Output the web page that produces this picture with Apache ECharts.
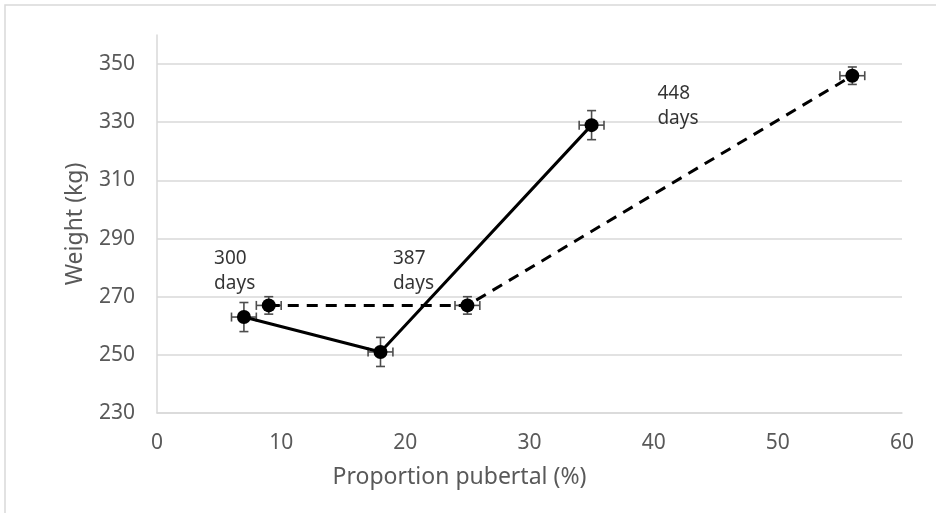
<!DOCTYPE html>
<html>
<head>
<meta charset="utf-8">
<script src="https://cdn.jsdelivr.net/npm/echarts@6/dist/echarts.min.js"></script>
<style>
  html, body { margin: 0; padding: 0; background: #fff; }
  #chart { width: 936px; height: 513px; }
</style>
</head>
<body>
<div id="chart"></div>
<script>
// solid line: x = proportion pubertal (%), y = weight (kg)
var solidX = [7, 18, 35];
var solidY = [263, 251, 329];
var solidXErr = [1, 1, 1];
var solidYErr = [5, 5, 5];

// dashed line
var dashedX = [9, 25, 56];
var dashedY = [267, 267, 346];
var dashedXErr = [1, 1, 1];
var dashedYErr = [3, 3, 3];

// age notes, anchored at top-left corner of the text
var noteText = ['300\ndays', '387\ndays', '448\ndays'];
var noteX = [4.6, 19.0, 40.3];
var noteY = [287.5, 287.5, 344];

var font = 'Noto Sans';

function pairs(xs, ys) {
    return xs.map(function (x, i) { return [x, ys[i]]; });
}
function errRows(xs, ys, ex, ey) {
    return xs.map(function (x, i) { return [x, ys[i], ex[i], ey[i]]; });
}

function renderErr(params, api) {
    var x = api.value(0), y = api.value(1), ex = api.value(2), ey = api.value(3);
    var l = api.coord([x - ex, y]);
    var r = api.coord([x + ex, y]);
    var t = api.coord([x, y + ey]);
    var b = api.coord([x, y - ey]);
    var cap = 4.5;
    var st = { stroke: '#4d4d4d', lineWidth: 1.6 };
    function seg(x1, y1, x2, y2) {
        return { type: 'line', shape: { x1: x1, y1: y1, x2: x2, y2: y2 }, style: st };
    }
    return {
        type: 'group',
        children: [
            seg(l[0], l[1], r[0], r[1]),
            seg(l[0], l[1] - cap, l[0], l[1] + cap),
            seg(r[0], r[1] - cap, r[0], r[1] + cap),
            seg(t[0], t[1], b[0], b[1]),
            seg(t[0] - cap, t[1], t[0] + cap, t[1]),
            seg(b[0] - cap, b[1], b[0] + cap, b[1])
        ]
    };
}

var myChart = echarts.init(document.getElementById('chart'));

var option = {
    backgroundColor: '#fff',
    animation: false,
    textStyle: { fontFamily: font },
    graphic: [{
        type: 'rect',
        shape: { x: 5, y: 5, width: 960, height: 540 },
        style: { fill: 'none', stroke: '#d9d9d9', lineWidth: 1.5 },
        silent: true
    }],
    grid: { left: 157, right: 34, top: 35, bottom: 100 },
    xAxis: {
        type: 'value',
        min: 0,
        max: 60,
        interval: 10,
        name: 'Proportion pubertal (%)',
        nameLocation: 'middle',
        nameGap: 53,
        nameTextStyle: { fontSize: 23, color: '#595959', padding: [0, 140, 0, 0] },
        axisLine: { lineStyle: { color: '#d9d9d9', width: 1.5 } },
        axisTick: { show: false },
        splitLine: { show: false },
        axisLabel: { fontSize: 21, color: '#595959', margin: 20 }
    },
    yAxis: {
        type: 'value',
        min: 230,
        max: 360,
        interval: 20,
        name: 'Weight (kg)',
        nameLocation: 'middle',
        nameGap: 70,
        nameTextStyle: { fontSize: 23, color: '#595959' },
        axisLine: { show: true, lineStyle: { color: '#d9d9d9', width: 1.5 } },
        axisTick: { show: false },
        splitLine: { showMaxLine: false, lineStyle: { color: '#d9d9d9', width: 1.5 } },
        axisLabel: { fontSize: 21, color: '#595959', margin: 22, showMaxLabel: false }
    },
    series: [
        {
            name: 'err-solid',
            type: 'custom',
            renderItem: renderErr,
            data: errRows(solidX, solidY, solidXErr, solidYErr),
            z: 3
        },
        {
            name: 'err-dashed',
            type: 'custom',
            renderItem: renderErr,
            data: errRows(dashedX, dashedY, dashedXErr, dashedYErr),
            z: 3
        },
        {
            name: 'solid',
            type: 'line',
            data: pairs(solidX, solidY),
            symbol: 'circle',
            symbolSize: 14,
            itemStyle: { color: '#000' },
            lineStyle: { color: '#000', width: 3 },
            z: 4
        },
        {
            name: 'dashed',
            type: 'line',
            data: pairs(dashedX, dashedY),
            symbol: 'circle',
            symbolSize: 14,
            itemStyle: { color: '#000' },
            lineStyle: { color: '#000', width: 3, type: [11, 8] },
            z: 4
        },
        {
            name: 'notes',
            type: 'scatter',
            data: pairs(noteX, noteY),
            symbolSize: 0,
            silent: true,
            label: {
                show: true,
                position: [0, 0],
                align: 'left',
                verticalAlign: 'top',
                fontSize: 19,
                lineHeight: 25,
                color: '#000',
                formatter: function (p) { return noteText[p.dataIndex]; }
            }
        }
    ]
};
myChart.setOption(option);
</script>
</body>
</html>
